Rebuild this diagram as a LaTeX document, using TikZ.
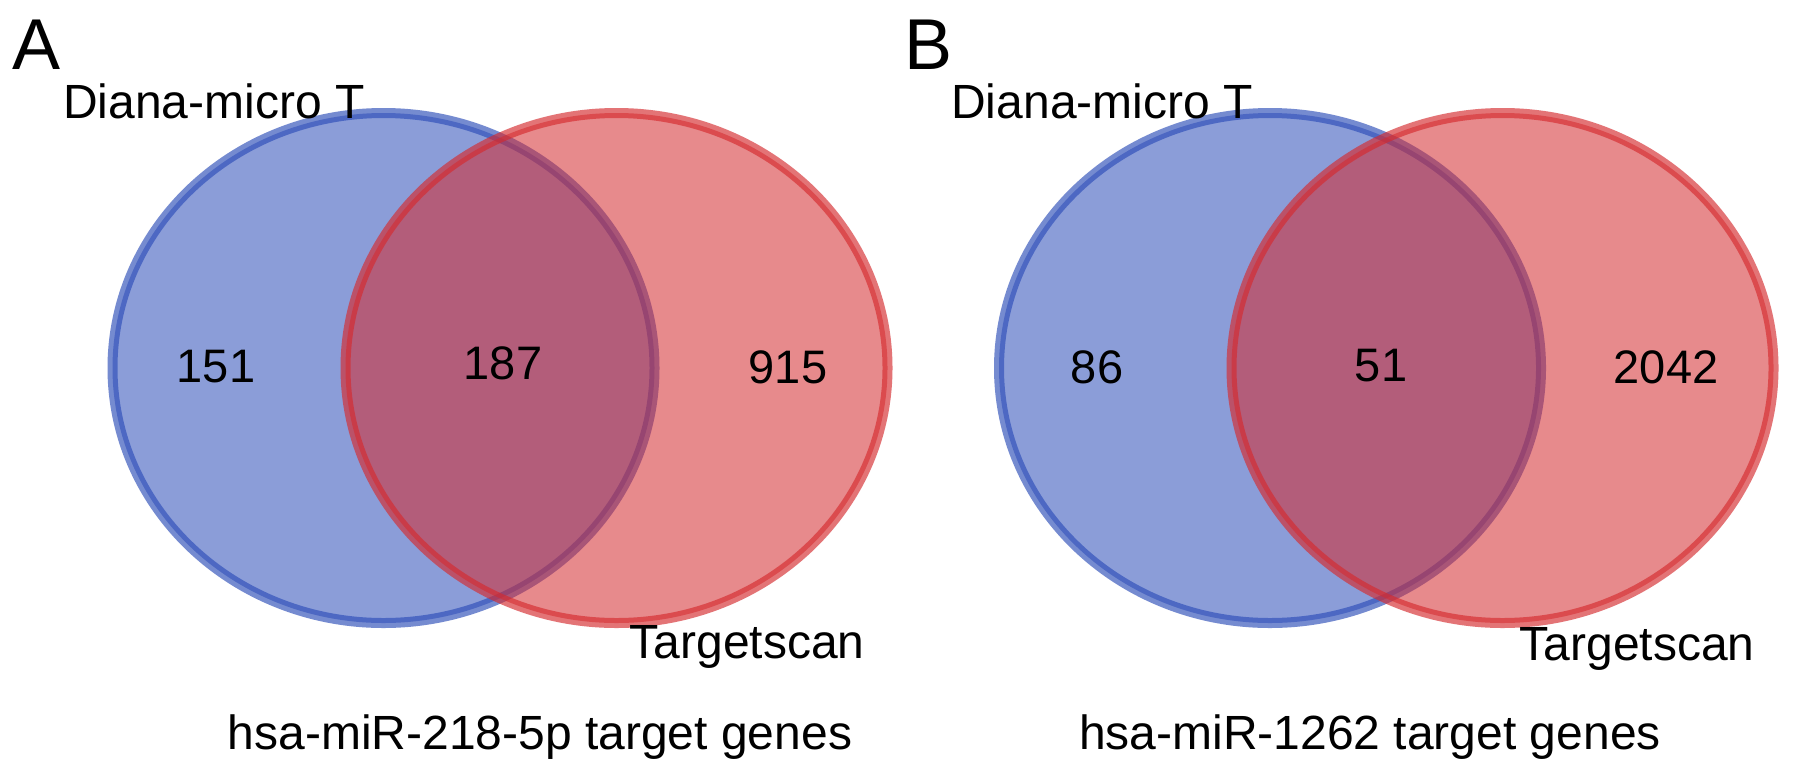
\documentclass[tikz,border=0pt]{standalone}
\usepackage{fontspec}
\setmainfont{Liberation Sans}

\tikzset{
set blue/.style={draw={rgb, 255:red, 44; green, 77; blue, 184},
                 fill={rgb, 255:red, 44; green, 77; blue, 184},
                 draw opacity=0.65, fill opacity=0.55, line width=10},
set red/.style={draw={rgb, 255:red, 213; green, 42; blue, 46},
                fill={rgb, 255:red, 213; green, 42; blue, 46},
                draw opacity=0.65, fill opacity=0.55, line width=10},
num/.style={font=\fontsize{47}{56}\selectfont, anchor=base, inner sep=0pt},
lbl/.style={font=\fontsize{48}{58}\selectfont, anchor=base, inner sep=0pt},
panel/.style={font=\fontsize{72}{86}\selectfont, anchor=base, inner sep=0pt}}

\begin{document}
\begin{tikzpicture}[x=1pt,y=1pt,yscale=-1,xscale=1]

\fill[white] (0,0) rectangle (1795,777);
\useasboundingbox (0,0) rectangle (1795,777);

% COORDINATES

\coordinate (dA) at (383.5,368);
\coordinate (tA) at (616.5,368);
\coordinate (dB) at (1270,368);
\coordinate (tB) at (1502.5,368);

\def\rx{271}
\def\ry{255}

% SETS

\foreach \p in {(dA),(dB)}{
    \draw [set blue] \p ellipse[x radius=\rx, y radius=\ry];
}
\foreach \p in {(tA),(tB)}{
    \draw [set red] \p ellipse[x radius=\rx, y radius=\ry];
}

% COUNTS

\node [num] (onlyDA) at (216,382) {151};
\node [num] (bothA) at (503,379) {187};
\node [num] (onlyTA) at (788,383) {915};
\node [num] (onlyDB) at (1097,383) {86};
\node [num] (bothB) at (1381,381) {51};
\node [num] (onlyTB) at (1666,383) {2042};

% LABELS

\node [panel] (pA) at (37,69) {A};
\node [panel] (pB) at (928,69) {B};
\node [lbl] (dianaA) at (214,118) {Diana-micro T};
\node [lbl] (dianaB) at (1102,118) {Diana-micro T};
\node [lbl] (targetA) at (747,658) {Targetscan};
\node [lbl] (targetB) at (1637,660) {Targetscan};
\node [lbl] (titleA) at (540,749) {hsa-miR-218-5p target genes};
\node [lbl] (titleB) at (1370,749) {hsa-miR-1262 target genes};

\end{tikzpicture}
\end{document}
